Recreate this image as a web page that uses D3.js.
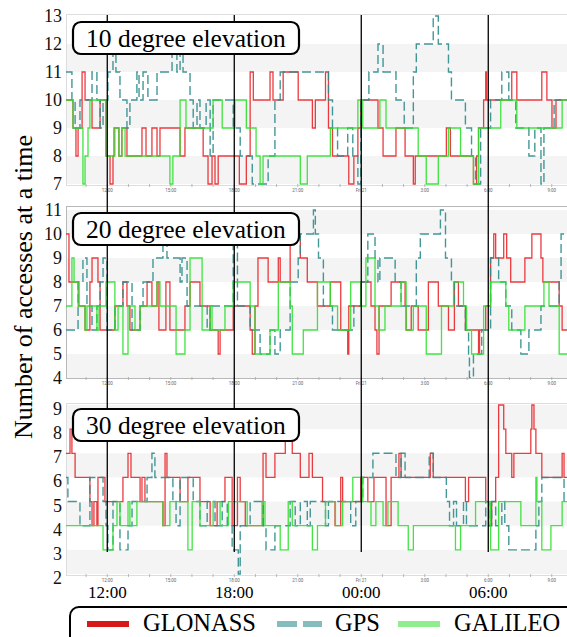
<!DOCTYPE html>
<html><head><meta charset="utf-8">
<script src="https://cdn.jsdelivr.net/npm/d3@7/dist/d3.min.js"></script>
<style>body{margin:0;background:#fff}svg{display:block}</style></head>
<body><svg id="chart" width="567" height="637"></svg>
<script>
// ---------- data ----------
const timeDomain = [10.05, 33.72];               // hours since midnight of day 1
const markHours = [12, 18, 24, 30];
const markLabels = ["12:00", "18:00", "00:00", "06:00"];
const smallTickHours = [12, 15, 18, 21, 24, 27, 30, 33];
const smallTickLabels = ["12:00", "15:00", "18:00", "21:00", "Fri 21", "3:00", "6:00", "9:00"];
const panelTitles = ["10 degree elevation", "20 degree elevation", "30 degree elevation"];
const yDomains = [[7, 13], [4, 11], [2, 9]];
const seriesNames = ["GLONASS", "GPS", "GALILEO"];

const glonass10 = [[10.05,10],[10.38,9],[10.52,8],[10.62,9],[10.81,11],[10.95,10],[11.28,9],[11.66,10],[11.94,8],[12.13,7],[12.27,8],[12.32,9],[12.55,8],[12.69,9],[12.93,8],[13.64,9],[13.83,8],[14.11,9],[14.35,8],[14.49,9],[15.44,8],[15.67,9],[16.53,8],[16.76,7],[16.95,8],[17.09,7],[17.24,8],[18.24,7],[18.57,8],[18.75,11],[18.90,10],[19.69,11],[19.83,10],[20.31,11],[21.02,10],[21.69,9],[21.83,10],[22.31,11],[22.45,9],[22.64,8],[23.41,7],[23.65,8],[23.84,9],[23.98,10],[24.79,9],[25.03,8],[25.64,9],[26.07,8],[26.46,7],[26.55,8],[28.02,9],[28.21,8],[29.30,7],[29.45,8],[29.54,9],[29.78,10],[29.88,11],[29.92,10],[31.11,11],[31.35,10],[32.53,11],[32.77,10],[33.01,9],[33.20,10]];
const gps10 = [[10.05,11],[10.33,10],[10.48,9],[10.71,10],[11.28,11],[11.51,10],[11.66,9],[11.80,10],[12.03,11],[12.27,12],[12.41,11],[12.60,10],[12.93,9],[13.07,10],[13.40,11],[13.50,10],[13.69,11],[13.92,10],[14.35,11],[15.06,12],[15.29,11],[15.44,12],[15.58,11],[15.91,10],[16.06,9],[16.24,10],[16.38,9],[16.67,10],[16.86,8],[17.00,10],[17.95,9],[18.28,8],[18.85,7],[19.60,8],[19.92,10],[20.17,11],[22.45,10],[22.64,9],[22.88,8],[23.36,9],[23.60,8],[23.84,7],[23.98,10],[24.36,11],[24.79,12],[25.03,11],[25.64,10],[26.03,9],[26.46,11],[26.60,12],[27.40,13],[27.64,12],[28.12,11],[28.26,10],[28.92,9],[29.21,8],[29.40,7],[29.64,9],[30.11,10],[30.64,11],[30.97,10],[31.30,9],[31.92,8],[32.20,9],[32.49,7],[32.63,9],[33.11,10]];
const galileo10 = [[10.05,10],[10.38,9],[10.85,7],[10.95,8],[11.09,9],[11.18,10],[11.94,8],[12.36,9],[12.55,8],[12.69,9],[12.84,8],[14.96,7],[15.10,8],[15.44,10],[15.72,9],[17.00,10],[17.43,9],[18.03,10],[18.57,9],[19.03,8],[19.22,7],[19.36,8],[21.12,7],[21.45,8],[22.54,9],[23.84,10],[24.07,9],[24.88,10],[25.17,9],[26.69,8],[27.07,7],[27.64,8],[28.12,9],[28.69,8],[29.30,7],[29.54,9],[30.59,10],[31.35,9],[33.49,10]];

const glonass20 = [[10.05,10],[10.19,8],[10.66,7],[10.95,6],[11.18,8],[11.28,9],[11.56,8],[11.66,6],[12.36,7],[12.74,8],[12.93,7],[13.07,6],[13.55,7],[13.88,8],[14.11,7],[14.35,8],[14.44,6],[14.77,8],[14.96,6],[15.67,7],[15.91,8],[16.38,7],[16.86,6],[17.24,5],[17.33,6],[17.95,7],[18.75,6],[18.85,5],[18.98,7],[19.12,9],[19.60,8],[20.08,9],[20.17,8],[20.64,10],[21.12,9],[21.45,8],[21.93,7],[22.54,8],[23.03,6],[23.36,5],[23.41,7],[23.98,8],[24.46,7],[24.65,6],[24.74,5],[24.84,7],[25.41,8],[26.07,7],[26.12,6],[26.36,7],[26.69,6],[27.17,8],[27.64,7],[28.12,6],[28.40,8],[28.59,7],[28.92,6],[29.54,5],[29.59,6],[29.88,7],[30.11,9],[30.26,10],[30.35,9],[30.73,10],[30.87,9],[31.06,8],[31.73,9],[32.06,10],[32.49,9],[32.58,8],[33.35,7],[33.49,6]];
const gps20 = [[10.05,6],[10.62,8],[10.85,9],[11.04,7],[11.28,6],[11.51,7],[11.66,8],[11.80,9],[11.99,6],[12.36,7],[12.74,8],[13.17,6],[13.55,7],[13.69,8],[14.16,9],[14.63,10],[14.82,9],[15.44,8],[15.53,9],[15.77,7],[16.72,6],[16.86,7],[17.95,10],[18.15,7],[18.75,6],[19.22,5],[19.69,6],[19.92,5],[20.17,6],[20.64,8],[21.02,9],[21.12,10],[21.74,11],[21.83,10],[21.98,9],[22.21,7],[22.64,6],[23.65,7],[23.98,8],[24.31,10],[24.65,9],[24.79,8],[24.88,9],[25.60,8],[25.88,7],[26.60,9],[26.79,10],[27.74,11],[27.98,9],[28.26,8],[28.40,7],[28.92,6],[29.07,5],[29.11,4],[29.30,5],[29.69,6],[30.11,9],[30.49,8],[30.83,7],[31.11,6],[31.54,5],[31.92,6],[32.49,7],[33.35,8],[33.44,10]];
const galileo20 = [[10.05,7],[10.33,9],[10.43,8],[10.62,7],[10.95,6],[11.04,7],[11.51,6],[11.61,7],[11.94,8],[12.36,6],[12.51,7],[12.74,5],[12.98,7],[13.31,6],[13.55,7],[14.35,8],[14.49,7],[15.25,5],[15.67,6],[15.91,9],[16.48,6],[16.86,7],[16.95,6],[17.56,7],[17.95,8],[18.75,7],[18.98,5],[19.69,6],[20.08,8],[20.64,7],[20.74,5],[21.26,6],[21.93,8],[22.54,7],[22.88,6],[23.50,8],[23.98,7],[24.22,9],[24.65,7],[24.84,6],[25.12,7],[25.88,8],[26.12,6],[26.46,7],[27.07,5],[27.79,7],[28.36,8],[28.83,7],[28.97,6],[29.21,5],[29.78,7],[30.11,8],[30.83,7],[30.97,6],[31.73,7],[32.63,8],[32.87,7],[33.35,5]];

const glonass30 = [[10.05,7],[10.24,8],[10.33,7],[10.48,6],[11.18,5],[11.28,4],[11.37,5],[11.51,4],[11.56,6],[11.89,5],[12.74,6],[12.98,7],[13.12,6],[13.55,5],[13.64,6],[13.78,5],[14.63,4],[14.73,7],[14.82,6],[15.44,5],[15.81,6],[16.38,5],[16.86,4],[17.19,5],[17.56,6],[17.90,4],[18.15,6],[18.28,5],[18.52,4],[19.36,7],[19.50,6],[19.92,7],[20.41,8],[20.74,7],[21.12,6],[21.53,7],[21.69,6],[22.17,5],[22.76,4],[23.03,6],[23.12,5],[23.98,6],[24.31,5],[24.60,6],[25.17,4],[25.41,6],[25.78,7],[25.88,6],[27.26,7],[27.40,6],[28.92,5],[29.07,6],[29.88,5],[30.02,4],[30.16,5],[30.35,6],[30.49,9],[30.73,8],[30.83,7],[31.11,6],[31.21,7],[32.01,8],[32.06,9],[32.16,8],[32.25,7],[32.53,6],[33.49,7],[33.58,6]];
const gps30 = [[10.05,6],[10.14,5],[10.71,4],[11.18,6],[11.80,5],[11.94,4],[12.03,3],[12.27,5],[12.60,3],[12.98,4],[13.17,5],[13.88,6],[14.11,7],[14.25,6],[15.10,5],[15.25,4],[15.44,6],[16.06,5],[16.38,4],[16.72,5],[17.09,4],[17.43,5],[17.67,4],[17.90,3],[18.19,2],[18.28,4],[18.75,5],[19.36,4],[19.50,3],[19.92,4],[20.64,5],[20.88,4],[21.12,5],[21.45,4],[21.59,5],[22.31,4],[22.45,5],[23.50,4],[23.74,5],[24.07,6],[24.55,7],[25.64,6],[25.88,7],[26.07,6],[27.21,7],[27.40,6],[28.02,5],[28.17,4],[28.36,5],[28.50,4],[28.83,5],[28.97,4],[29.88,5],[30.02,4],[30.16,5],[30.35,4],[30.64,5],[30.78,4],[30.97,3],[32.25,4],[32.39,5],[32.53,6],[33.58,5]];
const galileo30 = [[10.05,4],[11.80,3],[12.27,4],[12.46,5],[12.60,4],[12.98,5],[13.07,4],[13.40,5],[14.63,4],[14.96,5],[15.81,3],[16.01,5],[16.38,4],[17.00,5],[17.33,4],[17.72,5],[18.61,4],[19.31,5],[19.45,4],[20.17,3],[20.55,5],[20.74,4],[21.69,3],[21.93,4],[22.31,5],[22.78,4],[23.12,5],[23.60,6],[24.07,5],[24.46,4],[24.69,5],[25.03,4],[25.26,5],[25.74,4],[26.22,3],[26.46,4],[28.45,3],[28.69,4],[29.40,5],[30.11,3],[30.49,5],[31.54,4],[32.25,6],[32.30,5],[32.53,3],[32.96,4],[33.49,5]];

const panelSeries = [[glonass10, gps10, galileo10],[glonass20, gps20, galileo20],[glonass30, gps30, galileo30]];

// ---------- layout / style ----------
const plotLeft = 66, plotRight = 567;
const panels = [
  {top: 14, bottom: 185, yLo: 184, yHi: 16, boxTop: 22, labDy: 0},
  {top: 206, bottom: 378, yLo: 378, yHi: 210, boxTop: 213, labDy: 0},
  {top: 403, bottom: 575, yLo: 574, yHi: 405, boxTop: 409, labDy: 4}
];
const colors = ["#e8262a", "#2f8c8c", "#2ee02e"];
const legendColors = ["#d7191c", "#86bcbc", "#90ee90"];
const serif = "'Liberation Serif','Times New Roman',serif";

const svg = d3.select("#chart");
const x = d3.scaleLinear().domain(timeDomain).range([plotLeft, plotRight]);

panels.forEach((p, i) => {
  const y = d3.scaleLinear().domain(yDomains[i]).range([p.yLo, p.yHi]);
  const g = svg.append("g");
  const cid = "clip" + i;
  svg.append("clipPath").attr("id", cid).append("rect")
    .attr("x", plotLeft).attr("y", p.top).attr("width", plotRight - plotLeft).attr("height", p.bottom - p.top);
  const [lo, hi] = yDomains[i];
  const bands = d3.range(lo, hi).filter(v => (v - lo) % 2 === 0);
  g.selectAll("rect.band").data(bands).join("rect")
    .attr("x", plotLeft).attr("width", plotRight - plotLeft)
    .attr("y", v => y(v + 1)).attr("height", v => y(v) - y(v + 1))
    .attr("fill", "#f4f4f4");
  g.append("rect").attr("x", plotLeft + 0.5).attr("y", p.top + 0.5)
    .attr("width", plotRight - plotLeft + 5).attr("height", p.bottom - p.top)
    .attr("fill", "none").attr("stroke", i === 1 ? "#b8b8b8" : "#dddddd").attr("stroke-width", 1);
  const hours = d3.range(11, 34);
  g.selectAll("line.ht").data(hours).join("line")
    .attr("x1", h => x(h)).attr("x2", h => x(h))
    .attr("y1", p.bottom - 1).attr("y2", p.bottom + 2)
    .attr("stroke", "#aaa").attr("stroke-width", 0.8);
  g.selectAll("text.st").data(smallTickHours).join("text")
    .attr("x", h => x(h)).attr("y", p.bottom + 7)
    .attr("text-anchor", "middle").attr("font-size", 4.5)
    .attr("font-family", "Roboto, sans-serif").attr("fill", "#666")
    .text((h, k) => smallTickLabels[k]);
  g.selectAll("text.yl").data(d3.range(lo, hi + 1)).join("text")
    .attr("x", 62).attr("y", v => y(v) + p.labDy)
    .attr("text-anchor", "end").attr("dominant-baseline", "central")
    .attr("font-family", serif).attr("font-size", 18).attr("fill", "#111")
    .text(v => v);
  const line = d3.line().x(d => x(d[0])).y(d => y(d[1])).curve(d3.curveStepAfter);
  const lg = g.append("g").attr("clip-path", `url(#${cid})`);
  panelSeries[i].forEach((s, k) => {
    const pts = s.concat([[timeDomain[1] + 0.2, s[s.length - 1][1]]]);
    lg.append("path").datum(pts).attr("d", line)
      .attr("fill", "none").attr("stroke", colors[k])
      .attr("stroke-width", k === 1 ? 1.4 : 1.3)
      .attr("stroke-dasharray", k === 1 ? "9,4" : null)
      .attr("stroke-opacity", 0.9);
  });
});

svg.selectAll("line.mark").data(markHours).join("line")
  .attr("x1", h => x(h)).attr("x2", h => x(h))
  .attr("y1", 15).attr("y2", 552)
  .attr("stroke", "#000").attr("stroke-width", 1.3);

panels.forEach((p, i) => {
  svg.append("rect").attr("x", 73).attr("y", p.boxTop).attr("width", 226).attr("height", 32)
    .attr("rx", 8).attr("fill", "#fff").attr("stroke", "#000").attr("stroke-width", 2.2);
  svg.append("text").attr("x", 86).attr("y", p.boxTop + 25)
    .attr("font-family", serif).attr("font-size", 25.5).attr("fill", "#000")
    .text(panelTitles[i]);
});

svg.selectAll("text.mk").data(markHours).join("text")
  .attr("x", h => x(h)).attr("y", 598).attr("text-anchor", "middle")
  .attr("font-family", serif).attr("font-size", 17).attr("fill", "#000")
  .text((h, k) => markLabels[k]);

const leg = svg.append("g");
leg.append("rect").attr("x", 70).attr("y", 607).attr("width", 520).attr("height", 45)
  .attr("rx", 9).attr("fill", "#fff").attr("stroke", "#000").attr("stroke-width", 2);
const legItems = [{x1: 87, x2: 129, tx: 143}, {x1: 277, x2: 322, tx: 335}, {x1: 398, x2: 440, tx: 454}];
legItems.forEach((it, k) => {
  leg.append("line").attr("x1", it.x1).attr("x2", it.x2).attr("y1", 624).attr("y2", 624)
    .attr("stroke", legendColors[k]).attr("stroke-width", 6)
    .attr("stroke-dasharray", k === 1 ? "20,6" : null);
  leg.append("text").attr("x", it.tx).attr("y", 631)
    .attr("font-family", serif).attr("font-size", 24.5).attr("fill", "#000")
    .text(seriesNames[k]);
});

svg.append("text").attr("transform", "translate(32,287) rotate(-90)")
  .attr("text-anchor", "middle").attr("font-family", serif).attr("font-size", 26)
  .attr("fill", "#000").text("Number of accesses at a time");
</script></body></html>
